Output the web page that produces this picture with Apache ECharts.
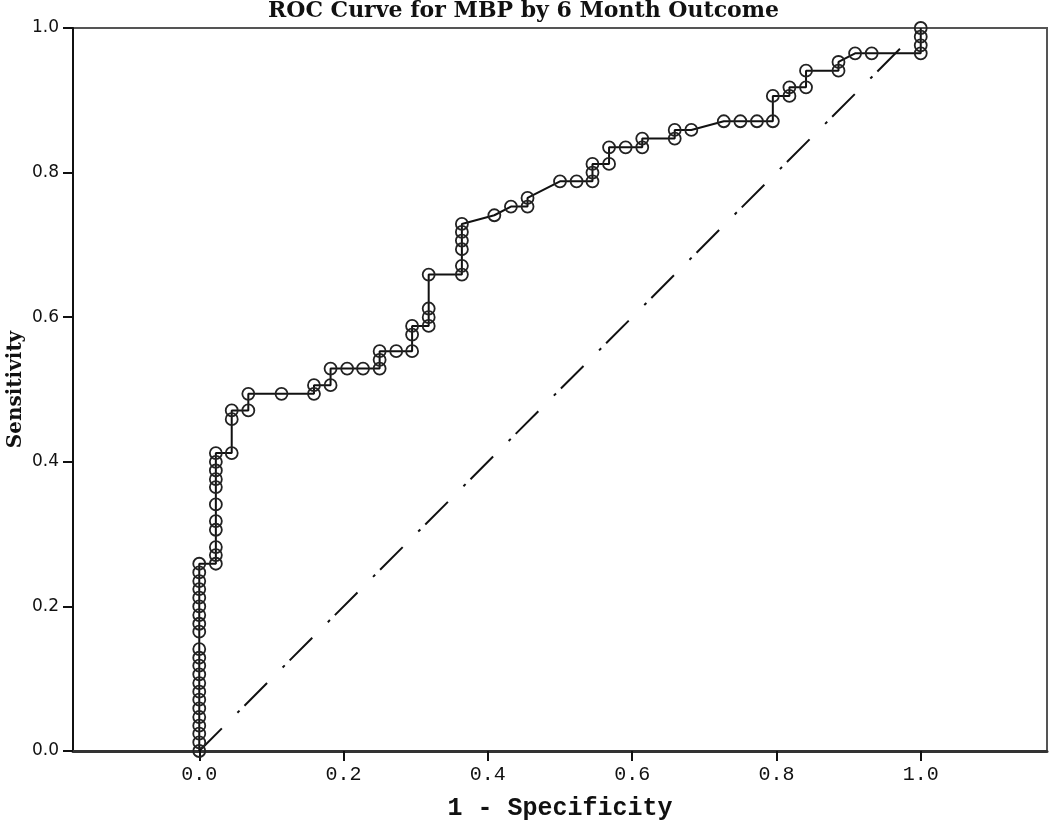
<!DOCTYPE html>
<html>
<head>
<meta charset="utf-8">
<title>ROC Curve for MBP by 6 Month Outcome</title>
<script src="https://cdn.jsdelivr.net/npm/echarts@6/dist/echarts.min.js"></script>
<style>
  html, body { margin: 0; padding: 0; background: #fff; }
  #roc-chart { width: 1050px; height: 824px; }
</style>
</head>
<body>
<div id="roc-chart"></div>
<script>
// ROC points (1 - specificity, sensitivity)
const fpr = [
  0, 0, 0, 0, 0, 0, 0, 0, 0, 0, 0, 0, 0, 0, 0, 0, 0, 0, 0, 0, 0, 0,
  0.023, 0.023, 0.023, 0.023, 0.023, 0.023, 0.023, 0.023, 0.023, 0.023, 0.023,
  0.045, 0.045, 0.045,
  0.068, 0.068,
  0.114,
  0.159, 0.159,
  0.182, 0.182,
  0.205, 0.227,
  0.25, 0.25, 0.25,
  0.273,
  0.295, 0.295, 0.295,
  0.318, 0.318, 0.318, 0.318,
  0.364, 0.364, 0.364, 0.364, 0.364, 0.364,
  0.409, 0.432,
  0.455, 0.455,
  0.5, 0.523,
  0.545, 0.545, 0.545,
  0.568, 0.568,
  0.591,
  0.614, 0.614,
  0.659, 0.659,
  0.682, 0.727, 0.75, 0.773,
  0.795, 0.795,
  0.818, 0.818,
  0.841, 0.841,
  0.886, 0.886,
  0.909, 0.932,
  1, 1, 1, 1
];
const tpr = [
  0, 0.012, 0.024, 0.035, 0.047, 0.059, 0.071, 0.082, 0.094, 0.106, 0.118, 0.129, 0.141,
  0.165, 0.176, 0.188, 0.2, 0.212, 0.224, 0.235, 0.247, 0.259,
  0.259, 0.271, 0.282, 0.306, 0.318, 0.341, 0.365, 0.376, 0.388, 0.4, 0.412,
  0.412, 0.459, 0.471,
  0.471, 0.494,
  0.494,
  0.494, 0.506,
  0.506, 0.529,
  0.529, 0.529,
  0.529, 0.541, 0.553,
  0.553,
  0.553, 0.576, 0.588,
  0.588, 0.6, 0.612, 0.659,
  0.659, 0.671, 0.694, 0.706, 0.718, 0.729,
  0.741, 0.753,
  0.753, 0.765,
  0.788, 0.788,
  0.788, 0.8, 0.812,
  0.812, 0.835,
  0.835,
  0.835, 0.847,
  0.847, 0.859,
  0.859, 0.871, 0.871, 0.871,
  0.871, 0.906,
  0.906, 0.918,
  0.918, 0.941,
  0.941, 0.953,
  0.965, 0.965,
  0.965, 0.976, 0.988, 1
];
// reference (chance) line
const diagX = [0, 1];
const diagY = [0, 1];
const tickValues = [0, 0.2, 0.4, 0.6, 0.8, 1.0];

const chart = echarts.init(document.getElementById("roc-chart"));
const option = {
  animation: false,
  backgroundColor: "#fff",
  title: {
    text: "ROC Curve for MBP by 6 Month Outcome",
    left: 268,
    top: 0,
    padding: 0,
    textStyle: {
      fontFamily: "DejaVu Serif",
      fontWeight: "bold",
      fontSize: 22,
      color: "#111",
    },
  },
  grid: {
    left: 73,
    right: 3,
    top: 28,
    bottom: 73,
    outerBoundsMode: "none",
    containLabel: false,
    show: true,
    borderColor: "#555",
    borderWidth: 2,
  },
  xAxis: {
    type: "value",
    min: -0.175,
    max: 1.175,
    name: "1 - Specificity",
    nameLocation: "middle",
    nameGap: 45,
    nameMoveOverlap: false,
    nameTextStyle: {
      fontFamily: "Liberation Mono",
      fontWeight: "bold",
      fontSize: 25,
      color: "#111",
    },
    splitLine: { show: false },
    axisLine: { onZero: false, lineStyle: { color: "#333", width: 3 } },
    axisTick: {
      customValues: tickValues,
      length: 10,
      lineStyle: { color: "#111", width: 2 },
    },
    axisLabel: {
      customValues: tickValues,
      margin: 14,
      formatter: (v) => v.toFixed(1),
      fontFamily: "Liberation Mono",
      fontSize: 20,
      color: "#111",
    },
  },
  yAxis: {
    type: "value",
    min: 0,
    max: 1,
    interval: 0.2,
    name: "Sensitivity",
    nameLocation: "middle",
    nameGap: 47,
    nameMoveOverlap: false,
    nameTextStyle: {
      fontFamily: "DejaVu Serif",
      fontWeight: "bold",
      fontSize: 20,
      color: "#111",
    },
    splitLine: { show: false },
    axisLine: { show: true, onZero: false, lineStyle: { color: "#111", width: 2 } },
    axisTick: { show: true, length: 10, lineStyle: { color: "#111", width: 2 } },
    axisLabel: {
      margin: 14,
      formatter: (v) => v.toFixed(1),
      fontFamily: "DejaVu Sans",
      fontSize: 17,
      color: "#111",
    },
  },
  series: [
    {
      name: "Reference",
      type: "line",
      data: diagX.map((x, i) => [x, diagY[i]]),
      showSymbol: false,
      lineStyle: { color: "#111", width: 2, type: [32, 22, 3, 7] },
      z: 1,
    },
    {
      name: "MBP",
      type: "line",
      data: fpr.map((x, i) => [x, tpr[i]]),
      symbol: "circle",
      symbolSize: 12,
      showAllSymbol: true,
      lineStyle: { color: "#111", width: 2 },
      itemStyle: {
        color: "rgba(0,0,0,0)",
        borderColor: "#222",
        borderWidth: 1.8,
      },
      z: 2,
    },
  ],
};
chart.setOption(option);
</script>
</body>
</html>
